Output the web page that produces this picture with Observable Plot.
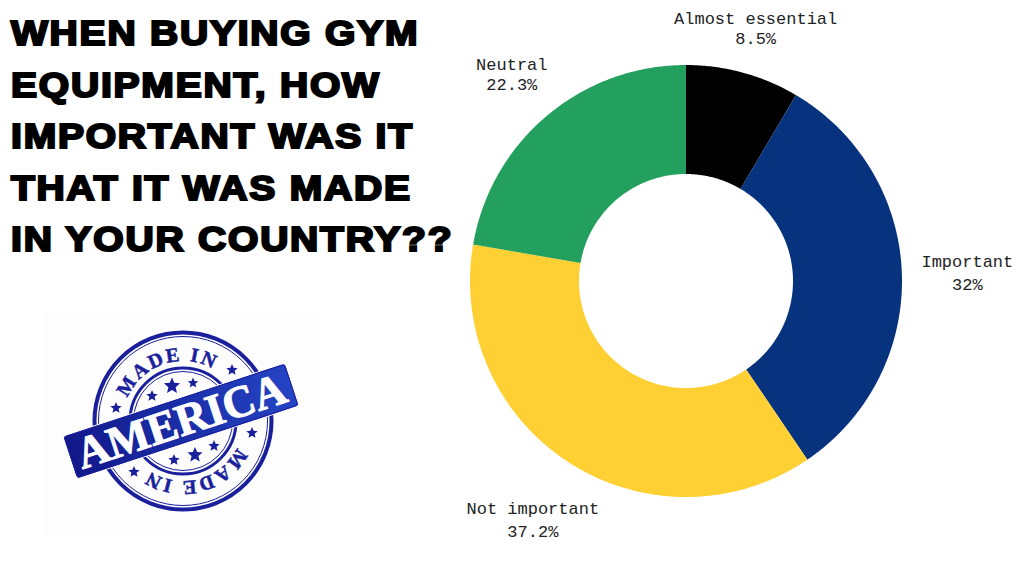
<!DOCTYPE html>
<html>
<head>
<meta charset="utf-8">
<script src="https://cdn.jsdelivr.net/npm/d3@7"></script>
<script src="https://cdn.jsdelivr.net/npm/@observablehq/plot@0.6"></script>
<style>
html,body{margin:0;padding:0;background:#fff;width:1024px;height:576px;overflow:hidden}
#chart,#stamp{position:absolute;left:0;top:0}
#title{position:absolute;left:11px;top:0;margin:0;font:700 35px/51.6px "Liberation Sans",sans-serif;color:#000;
  -webkit-text-stroke:2.2px #000;letter-spacing:1.6px;white-space:nowrap;padding-top:7px;
  transform:scaleX(1.115);transform-origin:0 0}
</style>
</head>
<body>
<div id="chart"></div>
<h1 id="title">WHEN BUYING GYM<br>EQUIPMENT, HOW<br>IMPORTANT WAS IT<br>THAT IT WAS MADE<br>IN YOUR COUNTRY??</h1>
<svg id="stamp" width="1024" height="576" xmlns="http://www.w3.org/2000/svg">
  <defs>
    <linearGradient id="banner" x1="0" x2="1" y1="0" y2="0">
      <stop offset="0" stop-color="#12188a"/><stop offset="1" stop-color="#2444c4"/>
    </linearGradient>
    <path id="arcTop" d="M 123 421 A 60 60 0 0 1 243 421"/>
    <polygon id="star" points="0,-1 0.27,-0.37 0.951,-0.309 0.43,0.14 0.588,0.809 0,0.46 -0.588,0.809 -0.43,0.14 -0.951,-0.309 -0.27,-0.37"/>
  </defs>
  <rect x="45" y="310" width="275" height="227" fill="#fdfdfe"/>
  <g fill="none" stroke="#1a1f9c">
    <circle cx="183" cy="421" r="88.5" stroke-width="4"/>
    <circle cx="183" cy="421" r="84.5" stroke-width="1"/>
    <circle cx="183" cy="421" r="53" stroke-width="3"/>
    <circle cx="183" cy="421" r="49.5" stroke-width="1"/>
  </g>
  <g fill="#1a1f9c" stroke="#1a1f9c" stroke-width="0.5" font-family="Liberation Serif" font-weight="700" font-size="20" letter-spacing="2.2">
    <g transform="rotate(-18 183 421)"><text><textPath href="#arcTop" startOffset="50%" text-anchor="middle">MADE IN</textPath></text></g>
    <g transform="rotate(165.5 183 421)"><text><textPath href="#arcTop" startOffset="50%" text-anchor="middle">MADE IN</textPath></text></g>
  </g>
  <g fill="#1a1f9c">
    <use href="#star" transform="translate(232 370) scale(6)"/>
    <use href="#star" transform="translate(116 408) scale(6)"/>
    <use href="#star" transform="translate(252 433) scale(6)"/>
    <use href="#star" transform="translate(134 472) scale(6)"/>
    <use href="#star" transform="translate(172 386) scale(8.5)"/>
    <use href="#star" transform="translate(193 383) scale(5.5)"/>
    <use href="#star" transform="translate(152 396) scale(6)"/>
    <use href="#star" transform="translate(195 455) scale(8)"/>
    <use href="#star" transform="translate(214 446) scale(6)"/>
    <use href="#star" transform="translate(174 460) scale(6)"/>
  </g>
  <g transform="translate(181 421) rotate(-18.2)">
    <rect x="-117" y="-22.5" width="234" height="45" rx="3" fill="url(#banner)" stroke="#fff" stroke-width="1"/>
    <rect x="-116" y="-21.5" width="232" height="43" rx="3" fill="none" stroke="#1a1f9c" stroke-width="1"/>
    <text x="0" y="15" text-anchor="middle" fill="#fff" stroke="#fff" stroke-width="1" font-family="Liberation Serif" font-weight="700" font-size="45" textLength="218" lengthAdjust="spacingAndGlyphs">AMERICA</text>
  </g>
</svg>
<script>
const categories = ["Almost essential", "Important", "Not important", "Neutral"];
const shares = [8.5, 32, 37.2, 22.3];
const valueLabels = ["8.5%", "32%", "37.2%", "22.3%"];
const colors = ["#000000", "#07327d", "#ffd033", "#239f5e"];

// layout, in pixels of the 1024x576 picture
const cx = 686, cy = 281, outer = 216, inner = 107;
const labelRadius = [262, 281, 284, 271];
const labelGap = [20, 23, 23, 20];
const total = d3.sum(shares);

let cum = 0;
const slices = categories.map((c, i) => {
  const a0 = cum / total * 2 * Math.PI;
  cum += shares[i];
  const a1 = cum / total * 2 * Math.PI;
  return {category: c, a0, a1, mid: (a0 + a1) / 2, i};
});

const arcRows = slices.flatMap(s => {
  const n = Math.ceil((s.a1 - s.a0) / (Math.PI / 360));
  return d3.range(n + 1).map(k => {
    const a = s.a0 + (s.a1 - s.a0) * k / n;
    return {category: s.category, ox: Math.sin(a), oy: Math.cos(a), ix: Math.sin(a) * inner / outer, iy: Math.cos(a) * inner / outer};
  });
});

const lab = (s, sign) => ({
  x: Math.sin(s.mid) * labelRadius[s.i] / outer,
  y: Math.cos(s.mid) * labelRadius[s.i] / outer + sign * labelGap[s.i] / 2 / outer
});

const textStyle = {fontFamily: "'Liberation Mono', monospace", fontSize: 17, fill: "#222", letterSpacing: "0.2px", textAnchor: "middle", stroke: "none"};

const plot = Plot.plot({
  width: 1024, height: 576,
  marginTop: 0, marginRight: 0, marginBottom: 0, marginLeft: 0,
  style: {background: "transparent"},
  x: {domain: [-cx / outer, (1024 - cx) / outer], range: [0, 1024], axis: null},
  y: {domain: [cy / outer, (cy - 576) / outer], range: [0, 576], axis: null},
  color: {domain: categories, range: colors, legend: false},
  marks: [
    Plot.area(arcRows, {x1: "ox", y1: "oy", x2: "ix", y2: "iy", z: "category", fill: "category", curve: "linear"}),
    Plot.text(slices, {x: s => lab(s, 1).x, y: s => lab(s, 1).y, text: "category", ...textStyle}),
    Plot.text(slices, {x: s => lab(s, -1).x, y: s => lab(s, -1).y, text: s => valueLabels[s.i], ...textStyle})
  ]
});
document.getElementById("chart").append(plot);
</script>
</body>
</html>
